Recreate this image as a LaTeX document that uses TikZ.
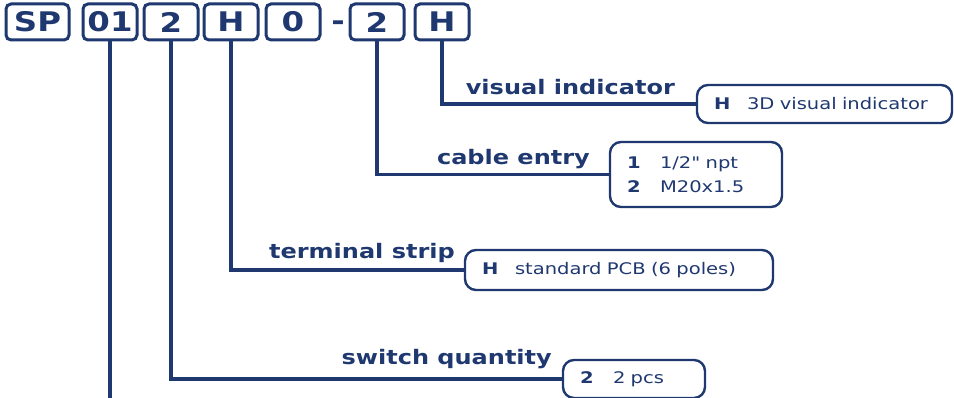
\documentclass[tikz,border=0pt]{standalone}
\usepackage{fontspec}
\setmainfont{DejaVu Sans}
\newfontfamily\codefont[FakeStretch=1.2]{DejaVu Sans}
\newfontfamily\valfont[FakeStretch=1.22]{DejaVu Sans}
\usetikzlibrary{arrows, arrows.meta, positioning}
\definecolor{navy}{RGB}{31,56,112}

\begin{document}
\begin{tikzpicture}[x=1pt, y=-1pt,
  code/.style={draw=navy, line width=3pt, rounded corners=5pt, minimum width=54pt, minimum height=36pt, inner sep=0pt, text=navy, font=\codefont\bfseries\fontsize{27pt}{27pt}\selectfont},
  lbl/.style={text=navy, inner sep=0pt, anchor=base east, font=\codefont\bfseries\fontsize{20pt}{20pt}\selectfont},
  valbox/.style={draw=navy, line width=2.4pt, rounded corners=11pt, text=navy, inner xsep=17pt, inner ysep=0pt, align=left, font=\valfont\fontsize{16pt}{24pt}\selectfont},
  conn/.style={draw=navy, line width=3.4pt}]
\useasboundingbox (0,0) rectangle (954,398);
% code boxes
\node[code, minimum width=63pt] (codeSP) at (37.5,22) {SP};
\node[code] (code01) at (110,22) {01};
\node[code] (code2) at (171,22) {2};
\node[code] (codeH) at (231,22) {H};
\node[code] (code0) at (293,22) {0};
\node[code, draw=none, minimum width=0pt, minimum height=0pt, anchor=base] (codedash) at (338,31) {-};
\node[code] (codeentry) at (377,22) {2};
\node[code] (codevis) at (442,22) {H};
% option boxes
\node[valbox, text width=221pt, minimum height=38pt] (visbox) at (824.5,104) {\makebox[33pt][l]{\bfseries H}3D visual indicator};
\node[valbox, text width=138pt, minimum height=65pt] (entrybox) at (696,174.5) {\makebox[33pt][l]{\bfseries 1}1/2" npt\\\makebox[33pt][l]{\bfseries 2}M20x1.5};
\node[valbox, text width=274pt, minimum height=40pt] (stripbox) at (619,270) {\makebox[33pt][l]{\bfseries H}standard PCB (6 poles)};
\node[valbox, text width=108pt, minimum height=38pt] (qtybox) at (634,379) {\makebox[33pt][l]{\bfseries 2}2 pcs};
% labels
\node[lbl] (vislabel) at (675,95) {visual indicator};
\node[lbl] (entrylabel) at (590,165) {cable entry};
\node[lbl] (striplabel) at (455,259) {terminal strip};
\node[lbl] (qtylabel) at (552,364) {switch quantity};
% connectors
\coordinate (codeend) at (110,400);
\draw[conn] (code01.south) -- (codeend);
\draw[conn] (code2.south) |- (qtybox.west);
\draw[conn] (codeH.south) |- (stripbox.west);
\draw[conn] (codeentry.south) |- (entrybox.west);
\draw[conn] (codevis.south) |- (visbox.west);
\end{tikzpicture}
\end{document}
